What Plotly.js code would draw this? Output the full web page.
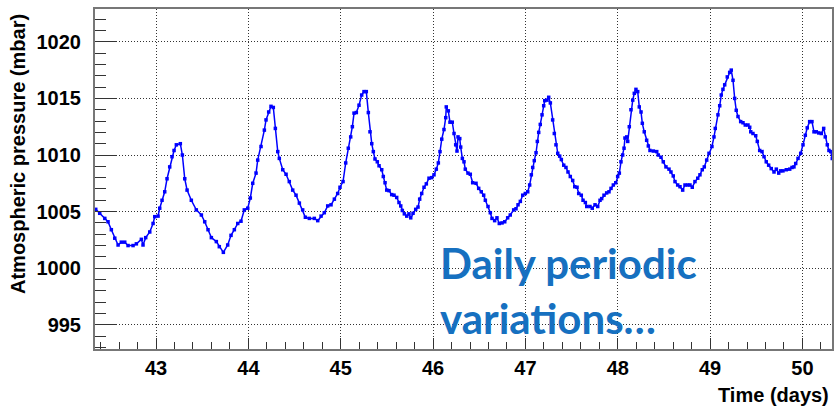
<!DOCTYPE html>
<html>
<head>
<meta charset="utf-8">
<script src="https://cdn.plot.ly/plotly-3.0.1.min.js"></script>
<style>
  html, body { margin: 0; padding: 0; background: #ffffff; }
  #chart { width: 834px; height: 407px; }
</style>
</head>
<body>
<div id="chart"></div>
<script>
// Time in days
const days = [
  42.347, 42.390, 42.445, 42.480, 42.516, 42.553, 42.589, 42.624, 42.661, 42.697,
  42.751, 42.787, 42.841, 42.859, 42.888, 42.932, 42.968, 42.986, 43.022, 43.040,
  43.065, 43.094, 43.119, 43.148, 43.173, 43.195, 43.220, 43.263, 43.285, 43.311,
  43.336, 43.382, 43.436, 43.491, 43.527, 43.563, 43.599, 43.653,
  43.685, 43.729, 43.776, 43.812, 43.848, 43.885, 43.920, 43.956, 43.993, 44.021,
  44.047, 44.083, 44.101, 44.137, 44.173, 44.191, 44.220, 44.245, 44.270, 44.292,
  44.318, 44.335, 44.372, 44.408, 44.443, 44.480, 44.516, 44.552, 44.588, 44.617,
  44.660, 44.714, 44.751, 44.787, 44.822, 44.859, 44.895, 44.931, 44.967, 44.992,
  45.025, 45.054, 45.082, 45.108, 45.126, 45.144, 45.169, 45.198, 45.227, 45.252,
  45.277, 45.299, 45.317, 45.336, 45.353, 45.371, 45.396, 45.415, 45.444, 45.461,
  45.480, 45.498, 45.523, 45.552, 45.577, 45.606, 45.631, 45.650, 45.667, 45.689,
  45.715, 45.739, 45.758, 45.783, 45.812, 45.837, 45.855, 45.877, 45.902, 45.927,
  45.956, 45.985, 46.010, 46.035, 46.057, 46.075, 46.094, 46.118, 46.137, 46.143,
  46.165, 46.183, 46.208, 46.227, 46.245, 46.259, 46.270, 46.289, 46.299, 46.317,
  46.335,
  46.349, 46.378, 46.403, 46.429, 46.465, 46.494, 46.522, 46.548, 46.566, 46.595,
  46.620, 46.638, 46.667, 46.692, 46.717, 46.747, 46.776, 46.808, 46.836, 46.873,
  46.898, 46.920, 46.945, 46.971, 46.999, 47.025, 47.046, 47.064, 47.079, 47.096,
  47.115, 47.129, 47.144, 47.161, 47.180, 47.198, 47.209, 47.234, 47.252, 47.270,
  47.295, 47.313, 47.331, 47.350, 47.371, 47.389, 47.415, 47.439, 47.461, 47.486,
  47.512, 47.534, 47.559, 47.577, 47.605, 47.624, 47.649, 47.664,
  47.699, 47.724, 47.754, 47.783, 47.808, 47.826, 47.851, 47.880, 47.905, 47.927,
  47.952, 47.978, 47.999, 48.017, 48.035, 48.053, 48.068, 48.078, 48.097, 48.108,
  48.125, 48.143, 48.162, 48.179, 48.197, 48.216, 48.233, 48.252, 48.266, 48.287,
  48.313, 48.331, 48.349, 48.385, 48.422, 48.439, 48.468, 48.493, 48.522, 48.555,
  48.576, 48.601, 48.620, 48.649, 48.674, 48.703, 48.728, 48.757, 48.782, 48.807,
  48.836, 48.866, 48.890, 48.915, 48.937, 48.963, 48.988,
  49.020, 49.042, 49.056, 49.085, 49.104, 49.121, 49.139, 49.158, 49.186, 49.212,
  49.229, 49.248, 49.266, 49.283, 49.302, 49.331, 49.356, 49.381, 49.410, 49.429,
  49.440, 49.464, 49.494, 49.511, 49.537, 49.562, 49.584, 49.608, 49.634, 49.662,
  49.692, 49.717, 49.743, 49.764, 49.789, 49.825, 49.862, 49.887, 49.908, 49.927,
  49.952, 49.981, 50.006, 50.031, 50.052, 50.078, 50.103, 50.125, 50.150, 50.176,
  50.204, 50.230, 50.247, 50.269, 50.287, 50.306, 50.323
];

// Atmospheric pressure in mbar
const pressure = [
  1005.2, 1004.85, 1004.4, 1004.1, 1003.4, 1002.65, 1002.05, 1002.3, 1002.3, 1002.0,
  1002.0, 1002.15, 1002.55, 1002.05, 1002.7, 1003.2, 1003.95, 1004.55, 1004.6, 1005.3,
  1006.0, 1006.75, 1007.9, 1008.95, 1009.85, 1010.4, 1010.9, 1011.0, 1010.0, 1007.9,
  1006.9, 1006.0, 1005.15, 1004.7, 1004.1, 1003.4, 1002.7, 1002.35,
  1001.9, 1001.4, 1002.05, 1002.9, 1003.4, 1003.95, 1004.15, 1005.15, 1005.3, 1006.2,
  1007.5, 1008.4, 1009.55, 1010.75, 1012.2, 1013.1, 1013.8, 1014.3, 1014.2, 1012.35,
  1010.3, 1009.7, 1008.7, 1008.3, 1007.65, 1006.9, 1006.45, 1005.75, 1005.15, 1004.5,
  1004.4, 1004.4, 1004.2, 1004.6, 1004.9, 1005.5, 1005.6, 1006.1, 1006.6, 1007.15,
  1007.65, 1009.3, 1010.6, 1011.6, 1012.5, 1013.7, 1013.75, 1014.4, 1015.3, 1015.6,
  1015.6, 1013.75, 1012.05, 1011.0, 1010.3, 1009.65, 1009.4, 1009.05, 1008.7, 1008.1,
  1007.55, 1006.9, 1006.85, 1006.5, 1006.45, 1006.25, 1005.8, 1005.5, 1005.1, 1004.8,
  1004.6, 1004.8, 1004.45, 1004.85, 1005.2, 1005.4, 1006.1, 1006.6, 1007.15, 1007.45,
  1007.95, 1008.0, 1008.25, 1008.75, 1009.3, 1010.3, 1011.4, 1012.25, 1013.3, 1014.25,
  1013.9, 1012.9, 1012.9, 1011.9, 1010.9, 1010.35, 1011.6, 1011.45, 1010.7, 1009.7,
  1009.4,
  1008.75, 1008.4, 1008.3, 1007.55, 1007.5, 1007.05, 1006.75, 1006.45, 1006.0, 1005.45,
  1004.9, 1004.4, 1004.2, 1004.45, 1003.95, 1004.0, 1004.1, 1004.45, 1004.7, 1005.15,
  1005.25, 1005.6, 1005.9, 1006.45, 1006.6, 1006.75, 1007.35, 1008.25, 1008.9, 1009.5,
  1010.2, 1011.2, 1012.0, 1012.7, 1013.55, 1014.35, 1014.8, 1014.85, 1015.1, 1014.6,
  1013.1, 1011.9, 1010.9, 1010.15, 1009.9, 1009.6, 1009.1, 1008.9, 1008.5, 1008.1,
  1007.75, 1007.2, 1007.15, 1006.6, 1006.45, 1006.0, 1005.8, 1005.45,
  1005.45, 1005.3, 1005.6, 1005.45, 1006.0, 1006.15, 1006.45, 1006.65, 1006.75, 1007.05,
  1007.35, 1007.55, 1008.1, 1008.4, 1009.4, 1010.0, 1010.6, 1011.5, 1011.6, 1011.2,
  1012.5, 1014.0, 1014.85, 1015.45, 1015.8, 1015.6, 1014.25, 1013.8, 1012.8, 1012.05,
  1011.3, 1010.8, 1010.4, 1010.35, 1010.3, 1010.0, 1009.8, 1009.4, 1008.95, 1008.75,
  1008.5, 1008.15, 1007.65, 1007.35, 1007.2, 1006.9, 1007.35, 1007.35, 1007.35, 1007.15,
  1007.65, 1007.95, 1008.25, 1008.7, 1008.95, 1009.55, 1010.15,
  1010.75, 1011.6, 1012.35, 1013.55, 1014.35, 1015.3, 1015.8, 1016.2, 1016.9, 1017.3,
  1017.5, 1016.6, 1015.0, 1013.95, 1013.4, 1012.95, 1012.85, 1012.65, 1012.65, 1012.45,
  1012.05, 1011.9, 1011.7, 1011.2, 1010.4, 1010.3, 1009.85, 1009.4, 1009.1, 1008.8,
  1008.5, 1008.75, 1008.4, 1008.6, 1008.6, 1008.7, 1008.75, 1008.9, 1008.95, 1009.25,
  1009.7, 1010.15, 1010.9, 1011.75, 1012.4, 1012.95, 1012.95, 1012.05, 1012.05, 1011.95,
  1011.9, 1012.35, 1011.6, 1010.9, 1010.4, 1010.3, 1009.7
];

const xTickVals = [43, 44, 45, 46, 47, 48, 49, 50];
const yTickVals = [995, 1000, 1005, 1010, 1015, 1020];
const xTitle = "Time (days)";
const yTitle = "Atmospheric pressure (mbar)";
const noteText = "Daily periodic<br>variations…";

const axisFont = { family: "Liberation Sans, Arial, sans-serif", size: 20, color: "#000", weight: "bold" };

const trace = {
  x: days,
  y: pressure,
  type: "scatter",
  mode: "lines+markers",
  line: { color: "#0000ff", width: 1.5 },
  marker: { color: "#0000ff", size: 3.5, symbol: "square" },
  hoverinfo: "skip"
};

const layout = {
  width: 834,
  height: 407,
  margin: { l: 95, r: 2, t: 9, b: 58 },
  paper_bgcolor: "#ffffff",
  plot_bgcolor: "#ffffff",
  showlegend: false,
  xaxis: {
    range: [42.339, 50.32],
    tickvals: xTickVals,
    ticktext: xTickVals.map(String),
    ticks: "inside",
    ticklen: 11,
    tickwidth: 1,
    tickcolor: "#333",
    tickfont: axisFont,
    ticklabelstandoff: 0,
    showline: true,
    mirror: true,
    linecolor: "#777",
    linewidth: 2,
    showgrid: true,
    gridcolor: "#333",
    gridwidth: 1,
    griddash: "1px,2px",
    zeroline: false,
    minor: { dtick: 0.2, tick0: 43, ticks: "inside", ticklen: 7, tickcolor: "#333", tickwidth: 1, showgrid: false }
  },
  yaxis: {
    range: [992.86, 1022.9],
    tickvals: yTickVals,
    ticktext: yTickVals.map(String),
    ticks: "inside",
    ticklen: 22,
    tickwidth: 1,
    tickcolor: "#333",
    tickfont: axisFont,
    ticklabelstandoff: 8,
    showline: true,
    mirror: true,
    linecolor: "#777",
    linewidth: 2,
    showgrid: true,
    gridcolor: "#333",
    gridwidth: 1,
    griddash: "1px,2px",
    zeroline: false,
    minor: { dtick: 1, tick0: 990, ticks: "inside", ticklen: 11, tickcolor: "#333", tickwidth: 1, showgrid: false }
  },
  annotations: [
    {
      text: yTitle,
      xref: "paper", yref: "paper",
      x: (18 - 95) / 737, y: (349 - 12) / 340,
      xanchor: "center", yanchor: "top",
      textangle: -90,
      showarrow: false,
      font: axisFont
    },
    {
      text: xTitle,
      xref: "paper", yref: "paper",
      x: (831 - 95) / 737, y: (349 - 395) / 340,
      xanchor: "right", yanchor: "middle",
      showarrow: false,
      font: axisFont
    },
    {
      text: noteText,
      xref: "paper", yref: "paper",
      x: (438 - 95) / 737, y: (349 - 290) / 340,
      xanchor: "left", yanchor: "middle",
      align: "left",
      showarrow: false,
      font: { family: "Lato, Open Sans, sans-serif", size: 42, color: "#1670c0", weight: "bold" }
    }
  ]
};

Plotly.newPlot("chart", [trace], layout, { displayModeBar: false, staticPlot: true });
</script>
</body>
</html>
